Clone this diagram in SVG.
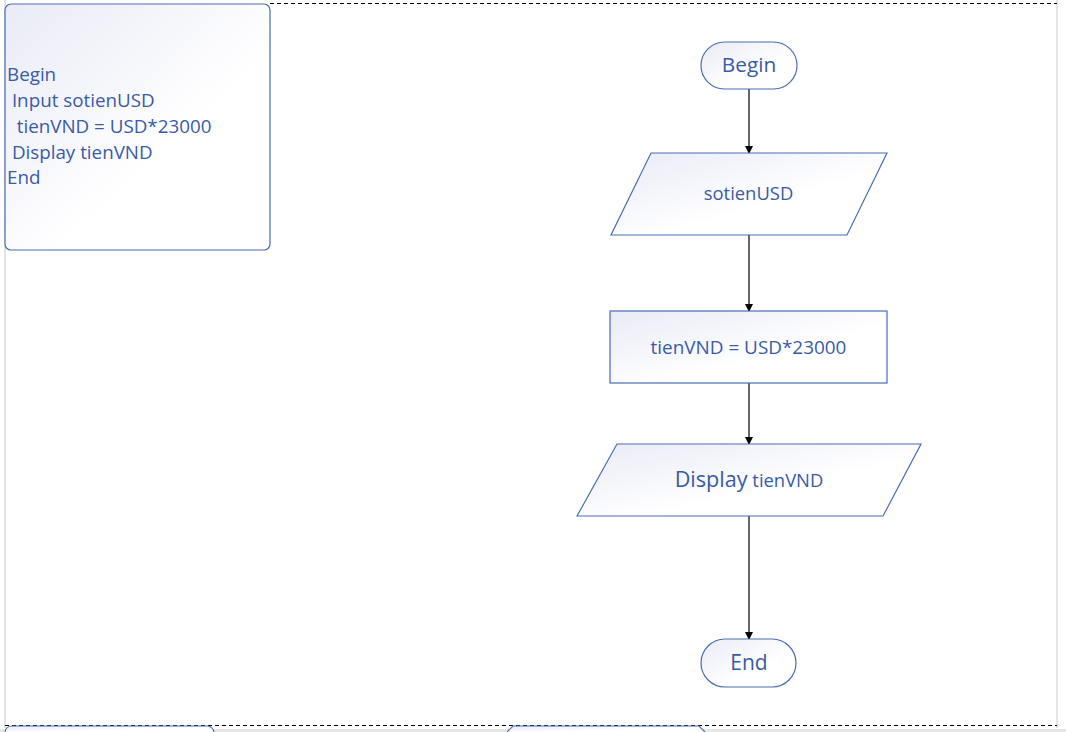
<svg xmlns="http://www.w3.org/2000/svg" width="1066" height="732" viewBox="0 0 1066 732">
<defs>
<linearGradient id="g" x1="0" y1="0" x2="1" y2="1">
<stop offset="0" stop-color="#e9ebf6"/>
<stop offset="0.6" stop-color="#ffffff"/>
<stop offset="1" stop-color="#ffffff"/>
</linearGradient>
<marker id="arr" markerWidth="8" markerHeight="8" refX="7" refY="4" orient="auto" markerUnits="userSpaceOnUse">
<path d="M0,0 L8,4 L0,8 Z" fill="#000"/>
</marker>
<style>
.sh{fill:url(#g);stroke:#4a6cb7;stroke-width:1.2}
.t{font-family:"Open Sans","Liberation Sans",sans-serif;fill:#3a5ba7}
.c{stroke:#000;stroke-width:1.2;fill:none;marker-end:url(#arr)}
</style>
</defs>
<rect width="1066" height="732" fill="#fff"/>
<rect x="0" y="729" width="1066" height="3" fill="#e6e6e6"/>
<line x1="5" y1="0" x2="5" y2="728" stroke="#c8c8c8" stroke-width="1"/>
<line x1="1057" y1="0" x2="1057" y2="728" stroke="#c8c8c8" stroke-width="1"/>
<line x1="270" y1="3.5" x2="1057" y2="3.5" stroke="#000" stroke-dasharray="4,3" stroke-width="1"/>
<line x1="5" y1="725.5" x2="1057" y2="725.5" stroke="#000" stroke-dasharray="4,3" stroke-width="1"/>
<g id="bottom-partial">
<path d="M5,732 Q6,726 12,726 L208,726 Q213,727 214,732" class="sh"/>
<path d="M507,732 L513,726 L699,726 L705,732" class="sh"/>
</g>
<g id="pseudocode">
<rect x="5" y="4" width="265" height="246" rx="6" class="sh"/>
<text class="t" font-size="18.8" xml:space="preserve"><tspan x="7" y="81">Begin</tspan><tspan x="7" y="107"> Input sotienUSD</tspan><tspan x="7" y="133">  tienVND = USD*23000</tspan><tspan x="7" y="159"> Display tienVND</tspan><tspan x="7" y="184">End</tspan></text>
</g>
<g id="connectors">
<line x1="749" y1="89" x2="749" y2="153" class="c"/>
<line x1="749" y1="235" x2="749" y2="311" class="c"/>
<line x1="749" y1="383" x2="749" y2="444" class="c"/>
<line x1="749" y1="516" x2="749" y2="639" class="c"/>
</g>
<g id="begin">
<rect x="701" y="42" width="96" height="47" rx="23.5" class="sh"/>
<text x="749" y="72" text-anchor="middle" class="t" font-size="20.8">Begin</text>
</g>
<g id="input">
<path d="M651,153 L887,153 L847,235 L611,235 Z" class="sh"/>
<text x="748.5" y="200" text-anchor="middle" class="t" font-size="18.4">sotienUSD</text>
</g>
<g id="process">
<rect x="610" y="311" width="277" height="72" class="sh"/>
<text x="748.5" y="354" text-anchor="middle" class="t" font-size="18.9">tienVND = USD*23000</text>
</g>
<g id="output">
<path d="M617,444 L921,444 L883,516 L577,516 Z" class="sh"/>
<text x="749" y="487" text-anchor="middle" class="t"><tspan font-size="21.6">Display</tspan><tspan font-size="18.4"> tienVND</tspan></text>
</g>
<g id="end">
<rect x="701" y="639" width="95" height="48" rx="24" class="sh"/>
<text x="749" y="670" text-anchor="middle" class="t" font-size="21">End</text>
</g>
</svg>
